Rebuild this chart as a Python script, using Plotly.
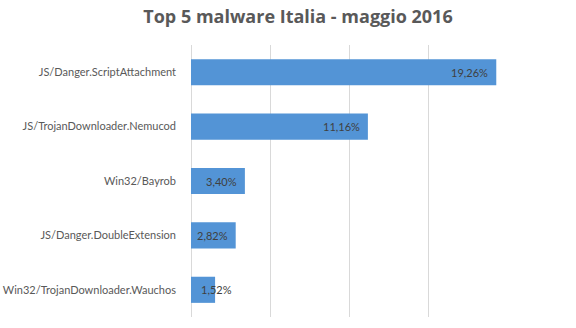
import plotly.graph_objects as go

categories = [
    "JS/Danger.ScriptAttachment",
    "JS/TrojanDownloader.Nemucod",
    "Win32/Bayrob",
    "JS/Danger.DoubleExtension",
    "Win32/TrojanDownloader.Wauchos",
]
values = [19.26, 11.16, 3.40, 2.82, 1.52]
value_labels = ["19,26%", "11,16%", "3,40%", "2,82%", "1,52%"]
x_ticks = [0, 5, 10, 15, 20]

W, H = 576, 328
ml, mr, mt, mb = 191, 68, 45, 11
xmax = 20
px_per_unit = (W - ml - mr) / xmax

fig = go.Figure()
fig.add_trace(go.Bar(
    y=categories,
    x=values,
    orientation="h",
    marker=dict(color="#5394d6", line=dict(width=0)),
    width=0.48,
    hoverinfo="skip",
))

label_font = dict(family="Lato", size=11, color="#404040")
annotations = []
for cat, v, lab in zip(categories, values, value_labels):
    if v * px_per_unit > 36:
        annotations.append(dict(x=v, y=cat, xref="x", yref="y", text=lab,
                                showarrow=False, xanchor="right", xshift=-6,
                                font=label_font))
    else:
        annotations.append(dict(x=0, y=cat, xref="x", yref="y", text=lab,
                                showarrow=False, xanchor="left", xshift=8,
                                font=label_font))

fig.update_layout(
    width=W, height=H,
    margin=dict(l=ml, r=mr, t=mt, b=mb, autoexpand=False),
    paper_bgcolor="white", plot_bgcolor="white",
    showlegend=False,
    title=dict(text="<b>Top 5 malware Italia - maggio 2016</b>",
               x=298 / W, xanchor="center", y=1 - 17 / H, yanchor="middle",
               font=dict(family="Open Sans", size=18, color="#595959")),
    xaxis=dict(range=[0, xmax], tickvals=x_ticks, showticklabels=False,
               showgrid=True, gridcolor="#d9d9d9", gridwidth=1,
               zeroline=True, zerolinecolor="#d9d9d9", zerolinewidth=1,
               showline=False, fixedrange=True, automargin=False),
    yaxis=dict(autorange="reversed", showgrid=False, zeroline=False,
               showline=False, ticks="", ticklabelstandoff=14, automargin=False,
               tickfont=dict(family="Lato", size=11, color="#595959")),
    annotations=annotations,
)

fig.write_html("out.html")
